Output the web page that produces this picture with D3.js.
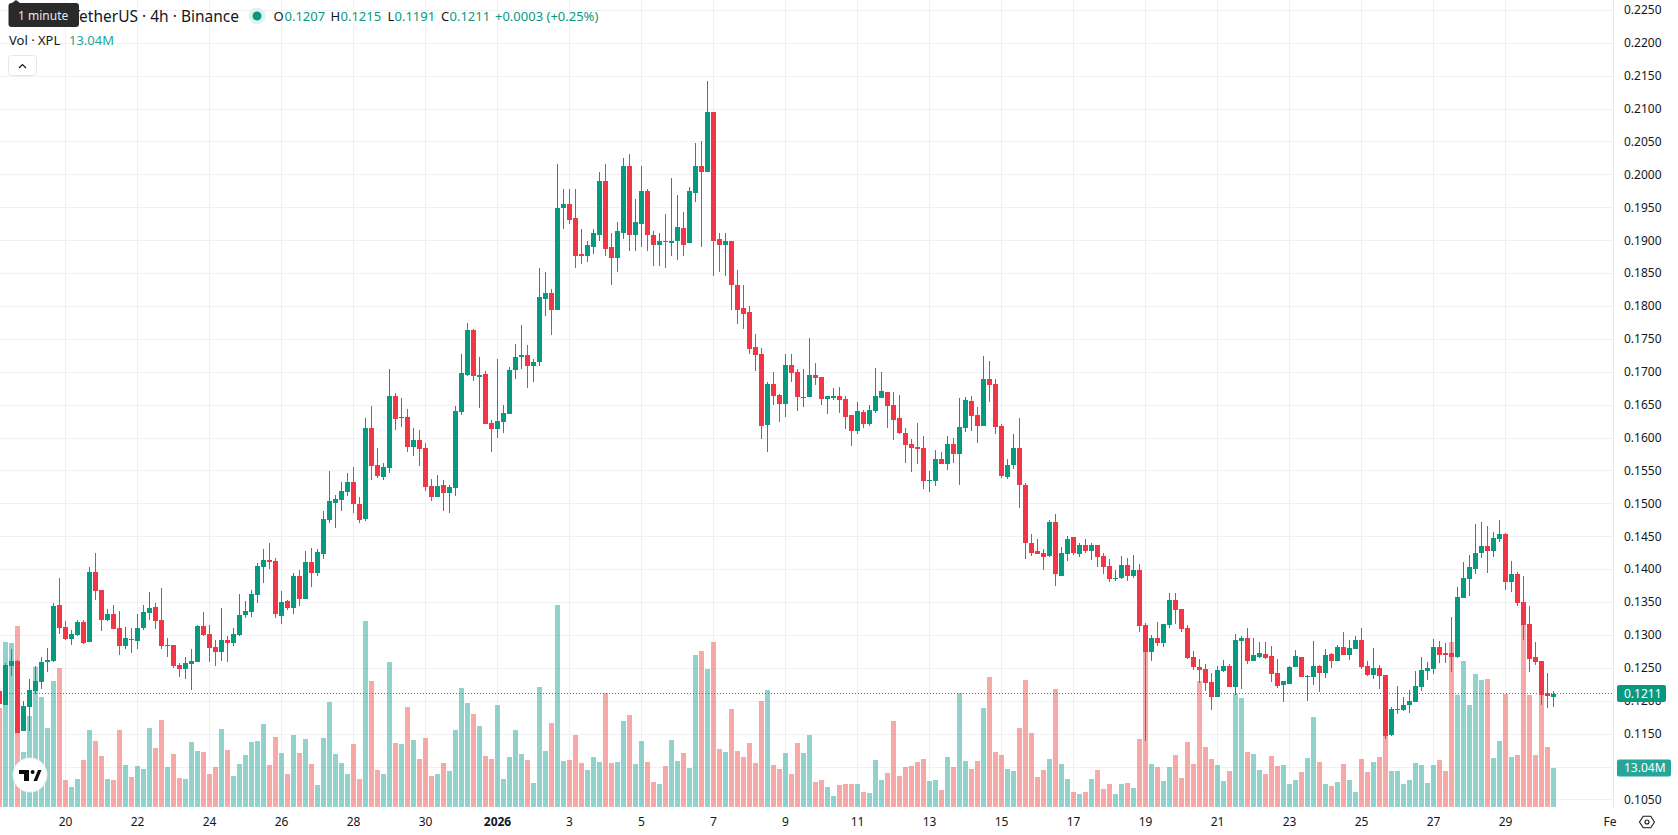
<!DOCTYPE html>
<html>
<head>
<meta charset="utf-8">
<title>XPL / TetherUS 4h</title>
<script src="https://cdn.jsdelivr.net/npm/d3@7"></script>
<style>
  html, body { margin: 0; padding: 0; background: #ffffff; }
  svg { display: block; font-family: "Noto Sans", Roboto, sans-serif; }
</style>
</head>
<body>
<svg id="chart" width="1678" height="835"></svg>
<script>
// Four-hour candles, oldest first. The first candle opens on 18 Dec 2025 at 04:00.
const opens = [
  .1216,.1194,.1254,.1261,.1154,.1191,.1216,.1229,.1260,.1261,.1346,
  .1313,.1294,.1300,.1320,.1290,.1396,.1369,.1323,.1332,.1311,.1284,.1295,.1291,.1311,.1334,.1343,.1323,.1284,.1285,
  .1255,.1249,.1257,.1260,.1314,.1302,.1282,.1275,.1293,.1288,.1300,.1331,.1335,.1361,.1404,.1414,.1413,.1330,.1353,.1341,
  .1391,.1356,.1412,.1395,.1424,.1475,.1501,.1506,.1518,.1533,.1500,.1477,.1615,.1559,.1541,.1554,.1664,.1630,.1632,.1586,
  .1597,.1585,.1527,.1510,.1529,.1516,.1524,.1639,.1696,.1764,.1693,.1697,.1623,.1614,.1624,.1636,.1703,.1723,.1726,.1709,
  .1715,.1812,.1820,.1795,.1949,.1956,.1934,.1879,.1876,.1890,.1909,.1991,.1890,.1873,.1912,.2014,.1909,.1926,.1975,.1909,
  .1894,.1900,.1897,.1899,.1920,.1896,.1973,.2013,.2005,.2096,.1902,.1894,.1899,.1833,.1797,.1791,.1738,.1728,.1620,.1682,
  .1665,.1652,.1711,.1700,.1661,.1662,.1696,.1693,.1659,.1661,.1664,.1659,.1635,.1611,.1640,.1621,.1641,.1661,.1670,.1650,
  .1630,.1608,.1591,.1586,.1585,.1535,.1535,.1568,.1560,.1591,.1576,.1615,.1656,.1635,.1618,.1690,.1682,.1618,.1541,.1559,
  .1585,.1528,.1441,.1428,.1425,.1420,.1472,.1391,.1423,.1449,.1423,.1437,.1428,.1437,.1420,.1405,.1387,.1387,.1407,.1391,
  .1399,.1316,.1275,.1296,.1288,.1316,.1354,.1340,.1311,.1267,.1252,.1249,.1229,.1207,.1246,.1254,.1222,.1291,.1296,.1261,
  .1267,.1272,.1269,.1243,.1224,.1226,.1252,.1267,.1237,.1237,.1253,.1243,.1272,.1261,.1282,.1271,.1279,.1293,.1253,.1240,
  .1250,.1240,.1148,.1186,.1186,.1194,.1199,.1221,.1246,.1249,.1282,.1273,.1273,.1267,.1357,.1385,.1401,.1425,.1436,.1428,
  .1446,.1454,.1381,.1393,.1351,.1317,.1267,.1261,.1212,.1207
];
const highs = [
  .1220,.1258,.1279,.1263,.1201,.1234,.1254,.1267,.1281,.1349,.1387,
  .1322,.1308,.1323,.1323,.1404,.1426,.1369,.1340,.1346,.1337,.1313,.1311,.1332,.1346,.1366,.1349,.1372,.1296,.1285,
  .1258,.1267,.1279,.1316,.1335,.1316,.1293,.1341,.1299,.1311,.1363,.1352,.1369,.1410,.1431,.1440,.1417,.1368,.1354,.1395,
  .1400,.1428,.1433,.1431,.1489,.1550,.1513,.1533,.1547,.1556,.1510,.1630,.1649,.1585,.1562,.1705,.1668,.1661,.1644,.1615,
  .1612,.1592,.1538,.1544,.1536,.1529,.1649,.1728,.1775,.1766,.1723,.1702,.1627,.1720,.1650,.1708,.1743,.1772,.1741,.1720,
  .1859,.1852,.1826,.2017,.1978,.1979,.1978,.1918,.1899,.1918,.2005,.2017,.1911,.1928,.2026,.2031,.1964,.2014,.1978,.1914,
  .1912,.1940,.1996,.1970,.1944,.1981,.2049,.2051,.2143,.2096,.1912,.1912,.1900,.1856,.1832,.1801,.1758,.1737,.1685,.1700,
  .1667,.1728,.1728,.1705,.1705,.1752,.1714,.1693,.1664,.1676,.1678,.1664,.1635,.1655,.1643,.1650,.1706,.1700,.1670,.1670,
  .1665,.1615,.1599,.1623,.1603,.1550,.1582,.1579,.1603,.1600,.1661,.1662,.1664,.1647,.1725,.1717,.1690,.1621,.1568,.1606,
  .1630,.1532,.1454,.1446,.1432,.1475,.1484,.1434,.1451,.1449,.1441,.1447,.1441,.1438,.1425,.1416,.1399,.1420,.1417,.1422,
  .1408,.1319,.1300,.1320,.1317,.1364,.1364,.1340,.1316,.1276,.1264,.1257,.1243,.1254,.1263,.1257,.1302,.1299,.1311,.1296,
  .1290,.1290,.1284,.1264,.1230,.1253,.1278,.1267,.1240,.1291,.1255,.1279,.1273,.1285,.1305,.1293,.1299,.1311,.1261,.1281,
  .1255,.1240,.1191,.1223,.1206,.1217,.1246,.1267,.1259,.1294,.1291,.1288,.1328,.1373,.1411,.1422,.1469,.1472,.1466,.1457,
  .1475,.1455,.1413,.1396,.1390,.1344,.1290,.1261,.1243,.1215
];
const lows = [
  .1190,.1194,.1238,.1152,.1154,.1154,.1211,.1219,.1244,.1260,.1302,
  .1293,.1285,.1299,.1287,.1290,.1354,.1307,.1322,.1310,.1270,.1279,.1273,.1279,.1308,.1323,.1310,.1279,.1267,.1251,
  .1237,.1234,.1217,.1260,.1299,.1260,.1254,.1261,.1260,.1284,.1299,.1326,.1328,.1349,.1379,.1401,.1327,.1318,.1339,.1332,
  .1345,.1356,.1374,.1391,.1416,.1471,.1463,.1489,.1512,.1486,.1471,.1474,.1536,.1539,.1536,.1547,.1612,.1617,.1579,.1573,
  .1557,.1520,.1504,.1510,.1489,.1486,.1512,.1635,.1694,.1687,.1646,.1621,.1579,.1600,.1608,.1636,.1690,.1705,.1676,.1685,
  .1710,.1785,.1757,.1794,.1918,.1925,.1858,.1865,.1867,.1880,.1899,.1876,.1832,.1852,.1902,.1884,.1885,.1890,.1884,.1861,
  .1861,.1858,.1877,.1870,.1876,.1896,.1959,.1891,.2005,.1847,.1852,.1847,.1794,.1774,.1766,.1728,.1702,.1599,.1579,.1650,
  .1624,.1632,.1685,.1641,.1647,.1662,.1681,.1650,.1637,.1658,.1638,.1614,.1588,.1606,.1615,.1618,.1638,.1661,.1615,.1597,
  .1606,.1562,.1548,.1561,.1523,.1518,.1527,.1560,.1551,.1562,.1529,.1609,.1611,.1592,.1618,.1655,.1606,.1539,.1538,.1553,
  .1494,.1416,.1420,.1423,.1399,.1419,.1375,.1390,.1413,.1422,.1419,.1425,.1414,.1404,.1393,.1381,.1382,.1385,.1382,.1387,
  .1305,.1140,.1261,.1284,.1282,.1311,.1317,.1305,.1264,.1247,.1228,.1216,.1187,.1207,.1244,.1222,.1210,.1219,.1257,.1261,
  .1266,.1264,.1229,.1220,.1199,.1226,.1252,.1237,.1200,.1224,.1214,.1235,.1250,.1261,.1270,.1262,.1279,.1249,.1238,.1234,
  .1218,.1142,.1147,.1180,.1185,.1182,.1199,.1215,.1232,.1241,.1258,.1258,.1244,.1265,.1357,.1360,.1393,.1417,.1395,.1419,
  .1442,.1369,.1366,.1344,.1293,.1244,.1255,.1194,.1189,.1191
];
const closes = [
  .1196,.1255,.1261,.1152,.1193,.1217,.1231,.1260,.1263,.1344,.1311,
  .1294,.1302,.1320,.1288,.1396,.1367,.1323,.1332,.1310,.1284,.1296,.1293,.1311,.1335,.1341,.1322,.1284,.1285,.1254,
  .1249,.1258,.1261,.1314,.1301,.1281,.1275,.1293,.1288,.1302,.1331,.1337,.1363,.1405,.1414,.1411,.1332,.1351,.1341,.1391,
  .1356,.1412,.1395,.1427,.1477,.1504,.1507,.1520,.1533,.1500,.1475,.1615,.1557,.1542,.1556,.1664,.1629,.1632,.1586,.1597,
  .1583,.1526,.1510,.1527,.1516,.1526,.1641,.1699,.1764,.1694,.1696,.1621,.1614,.1626,.1638,.1703,.1723,.1726,.1709,.1715,
  .1814,.1821,.1795,.1950,.1956,.1932,.1877,.1877,.1893,.1911,.1990,.1888,.1873,.1914,.2014,.1909,.1929,.1975,.1909,.1894,
  .1900,.1899,.1899,.1921,.1894,.1976,.2013,.2005,.2096,.1900,.1894,.1899,.1832,.1795,.1788,.1735,.1726,.1618,.1682,.1664,
  .1652,.1711,.1699,.1662,.1662,.1696,.1691,.1659,.1664,.1664,.1658,.1632,.1611,.1641,.1621,.1643,.1664,.1671,.1649,.1627,
  .1608,.1589,.1585,.1583,.1535,.1536,.1568,.1560,.1591,.1576,.1617,.1658,.1633,.1618,.1690,.1681,.1617,.1542,.1559,.1585,
  .1528,.1440,.1426,.1423,.1419,.1472,.1393,.1425,.1447,.1425,.1437,.1428,.1437,.1419,.1404,.1385,.1388,.1407,.1391,.1399,
  .1314,.1275,.1296,.1288,.1317,.1354,.1338,.1310,.1266,.1252,.1247,.1228,.1207,.1248,.1254,.1222,.1293,.1296,.1261,.1270,
  .1273,.1266,.1241,.1223,.1230,.1252,.1268,.1237,.1238,.1253,.1243,.1270,.1261,.1282,.1271,.1281,.1293,.1252,.1240,.1250,
  .1238,.1147,.1188,.1188,.1194,.1200,.1223,.1247,.1250,.1282,.1271,.1271,.1267,.1358,.1387,.1404,.1425,.1436,.1428,.1448,
  .1454,.1381,.1393,.1349,.1316,.1264,.1259,.1209,.1208,.1211
];
// Traded volume of each candle, in millions of XPL.
const volumes = [
  33.1,55.2,54.9,60.5,18.4,30.4,46.8,36.8,26.4,42.1,46.5,
  9.0,6.7,9.4,15.7,25.8,22.1,17.1,9.4,9.0,25.8,14.0,10.0,13.7,12.7,26.4,19.7,29.1,13.4,17.7,
  9.7,9.4,21.7,18.7,18.4,11.0,13.4,26.1,19.1,10.4,14.4,17.4,21.7,22.1,27.8,14.0,23.4,18.1,11.0,24.1,
  18.1,22.7,14.4,7.4,23.1,35.1,17.7,14.7,11.0,21.1,9.4,62.2,42.1,12.4,11.0,48.5,21.4,21.1,33.5,22.4,
  16.1,23.1,10.4,11.0,14.7,12.0,25.8,39.8,34.8,31.1,27.1,17.1,16.1,34.1,9.4,16.7,25.8,17.7,15.7,8.0,
  40.1,18.7,28.1,67.6,15.4,15.7,24.1,14.7,12.4,16.7,15.1,38.1,14.7,15.1,28.8,30.8,14.4,22.1,15.1,8.4,
  7.7,13.7,22.4,15.4,18.1,13.0,50.8,52.2,46.2,55.2,19.4,18.4,32.8,18.7,16.7,21.4,14.7,35.5,39.1,14.0,
  12.7,18.1,11.0,21.4,18.1,24.1,8.4,9.0,6.7,3.7,7.4,7.7,7.7,7.7,5.0,4.7,15.7,9.0,11.4,28.8,
  10.4,13.4,13.7,15.1,16.1,8.7,9.0,5.7,16.7,13.4,38.1,15.4,12.7,15.4,33.1,43.5,18.4,17.4,12.7,12.0,
  26.4,42.5,24.8,10.0,12.4,16.1,39.5,14.4,9.4,5.0,4.3,5.0,9.4,12.4,6.0,7.7,4.3,7.7,8.0,6.4,
  22.7,51.8,14.4,13.4,8.7,13.4,17.4,9.7,21.7,14.4,42.1,20.1,16.1,14.0,8.7,12.0,37.8,36.5,18.4,17.7,
  12.4,11.0,17.1,13.7,14.0,7.7,9.0,11.7,16.4,30.1,15.1,7.7,7.0,8.4,14.4,9.0,5.0,16.1,11.7,15.1,
  16.7,24.6,12.0,12.0,7.7,9.0,14.7,14.0,8.0,14.0,15.7,12.0,55.2,37.5,48.8,34.1,44.5,42.5,42.8,16.4,
  22.1,37.8,16.7,17.4,65.9,37.5,17.4,39.1,20.1,13.04
];
const priceTicks = [
  0.105,0.11,0.115,0.12,0.125,0.13,0.135,0.14,0.145,0.15,0.155,0.16,0.165,
  0.17,0.175,0.18,0.185,0.19,0.195,0.2,0.205,0.21,0.215,0.22,0.225
];
const dateTicks = [
  [2025,11,20,"20"],[2025,11,22,"22"],[2025,11,24,"24"],[2025,11,26,"26"],[2025,11,28,"28"],[2025,11,30,"30"],
  [2026,0,1,"2026"],[2026,0,3,"3"],[2026,0,5,"5"],[2026,0,7,"7"],[2026,0,9,"9"],[2026,0,11,"11"],[2026,0,13,"13"],
  [2026,0,15,"15"],[2026,0,17,"17"],[2026,0,19,"19"],[2026,0,21,"21"],[2026,0,23,"23"],[2026,0,25,"25"],
  [2026,0,27,"27"],[2026,0,29,"29"],[2026,1,1,"Fe"]
];

const UP = "#089981", DOWN = "#f23645";
const UP_VOL = "#26a69a", DOWN_VOL = "#ef5350";
const GRID = "#f1f1f3", BORDER = "#e6e7ea", INK = "#131722";
const PANE_RIGHT = 1614, PANE_BOTTOM = 807, BAR_WIDTH = 5;

const firstCandle = Date.UTC(2025, 11, 18, 4);
const times = opens.map((_, i) => new Date(firstCandle + i * 4 * 3600e3));
const tickDates = dateTicks.map(d => new Date(Date.UTC(d[0], d[1], d[2])));
const tickLabel = new Map(dateTicks.map((d, i) => [+tickDates[i], d[3]]));

const x = d3.scaleUtc()
  .domain([new Date(Date.UTC(2025, 11, 20)), new Date(Date.UTC(2026, 0, 29))])
  .range([65.5, 1505.5]);
const y = d3.scaleLinear().domain([0.225, 0.105]).range([10.4, 799.9]);
const v = d3.scaleLinear().domain([0, 100]).range([PANE_BOTTOM, PANE_BOTTOM - 299]);

const svg = d3.select("#chart");
const snap = n => Math.floor(n) + 0.5;

// Grid
const grid = svg.append("g").attr("stroke", GRID).attr("stroke-width", 1).attr("shape-rendering", "crispEdges");
grid.selectAll(".h").data(priceTicks).join("line").attr("class", "h")
  .attr("x1", 0).attr("x2", PANE_RIGHT).attr("y1", d => snap(y(d))).attr("y2", d => snap(y(d)));
grid.selectAll(".v").data(tickDates).join("line").attr("class", "v")
  .attr("y1", 0).attr("y2", PANE_BOTTOM).attr("x1", d => snap(x(d))).attr("x2", d => snap(x(d)));

// Volume columns sit behind the candles
svg.append("g").attr("shape-rendering", "crispEdges")
  .selectAll("rect").data(volumes).join("rect")
  .attr("x", (d, i) => Math.floor(x(times[i])) - 2)
  .attr("width", BAR_WIDTH)
  .attr("y", d => Math.round(v(d)))
  .attr("height", d => PANE_BOTTOM - Math.round(v(d)))
  .attr("fill", (d, i) => closes[i] >= opens[i] ? UP_VOL : DOWN_VOL)
  .attr("fill-opacity", 0.5);

// Candles: wick first, then body
const candles = svg.append("g").attr("shape-rendering", "crispEdges")
  .selectAll("g").data(opens).join("g")
  .attr("fill", (d, i) => closes[i] >= opens[i] ? UP : DOWN);
candles.append("rect")
  .attr("x", (d, i) => Math.floor(x(times[i])))
  .attr("width", 1)
  .attr("y", (d, i) => Math.round(y(highs[i])))
  .attr("height", (d, i) => Math.max(1, Math.round(y(lows[i])) - Math.round(y(highs[i]))));
candles.append("rect")
  .attr("x", (d, i) => Math.floor(x(times[i])) - 2)
  .attr("width", BAR_WIDTH)
  .attr("y", (d, i) => Math.round(y(Math.max(opens[i], closes[i]))))
  .attr("height", (d, i) => Math.max(1, Math.round(y(Math.min(opens[i], closes[i]))) - Math.round(y(Math.max(opens[i], closes[i])))));

// Last price line
const lastClose = closes[closes.length - 1];
const prevClose = closes[closes.length - 2];
svg.append("line")
  .attr("x1", 0).attr("x2", PANE_RIGHT)
  .attr("y1", snap(y(lastClose))).attr("y2", snap(y(lastClose)))
  .attr("stroke", UP).attr("stroke-dasharray", "1 2").attr("shape-rendering", "crispEdges");

// Axes
const yAxis = svg.append("g").attr("transform", `translate(${PANE_RIGHT},0)`)
  .call(d3.axisRight(y).tickValues(priceTicks).tickFormat(d3.format(".4f")).tickSize(0).tickPadding(10).offset(0));
const xAxis = svg.append("g").attr("transform", `translate(0,${PANE_BOTTOM})`)
  .call(d3.axisBottom(x).tickValues(tickDates).tickFormat(d => tickLabel.get(+d)).tickSize(0).tickPadding(10).offset(0));
[yAxis, xAxis].forEach(a => {
  a.select(".domain").remove();
  a.selectAll("text").attr("fill", INK).style("font-size", "12px").style("font-family", '"Noto Sans", Roboto, sans-serif');
});
xAxis.selectAll("text").filter(d => tickLabel.get(+d) === "2026").style("font-weight", 700);
xAxis.selectAll("text").filter(d => tickLabel.get(+d) === "Fe").attr("text-anchor", "end").attr("dx", 3);
// The volume tag covers this price label entirely
yAxis.selectAll(".tick").filter(d => d === 0.11).select("text").remove();
svg.append("line").attr("x1", PANE_RIGHT - .5).attr("x2", PANE_RIGHT - .5).attr("y1", 0).attr("y2", PANE_BOTTOM)
  .attr("stroke", BORDER).attr("shape-rendering", "crispEdges");

// Value tags on the price axis
function tag(cy, w, fill, text) {
  const g = svg.append("g");
  g.append("rect").attr("x", 1617).attr("y", cy - 8.5).attr("width", w).attr("height", 17).attr("rx", 2).attr("fill", fill);
  g.append("text").attr("x", 1624).attr("y", cy + 4).attr("fill", "#fff").style("font-size", "12px").text(text);
}
tag(snap(y(lastClose)), 49, UP, d3.format(".4f")(lastClose));
tag(768, 54, UP_VOL, d3.format(".2f")(volumes[volumes.length - 1]) + "M");

// Chart title and OHLC readout
const fmt = d3.format(".4f");
const last = opens.length - 1;
const legend = svg.append("g").style("font-size", "13px");
legend.append("text").attr("x", 239).attr("y", 21.5).attr("text-anchor", "end").attr("fill", INK)
  .style("font-size", "15.5px").text("TetherUS · 4h · Binance");
legend.append("circle").attr("cx", 257).attr("cy", 16).attr("r", 8.5).attr("fill", "#e0f2ef");
legend.append("circle").attr("cx", 257).attr("cy", 16).attr("r", 4.5).attr("fill", UP);
const readout = [
  ["O", 273.5, 284.5, fmt(opens[last])],
  ["H", 330.5, 340.5, fmt(highs[last])],
  ["L", 387.5, 394.5, fmt(lows[last])],
  ["C", 441, 449.5, fmt(lastClose)]
];
readout.forEach(([key, kx, vx, val]) => {
  legend.append("text").attr("x", kx).attr("y", 21).attr("fill", INK).text(key);
  legend.append("text").attr("x", vx).attr("y", 21).attr("fill", UP).text(val);
});
const change = lastClose - prevClose;
legend.append("text").attr("x", 495).attr("y", 21).attr("fill", UP)
  .text(`${d3.format("+.4f")(change)} (${d3.format("+.2f")(change / prevClose * 100)}%)`);
legend.append("text").attr("x", 9).attr("y", 45).attr("fill", INK).text("Vol · XPL");
legend.append("text").attr("x", 69).attr("y", 45).attr("fill", UP_VOL)
  .text(d3.format(".2f")(volumes[last]) + "M");

// Collapse button
svg.append("rect").attr("x", 8.5).attr("y", 55.5).attr("width", 28).attr("height", 20).attr("rx", 3)
  .attr("fill", "#fff").attr("stroke", BORDER);
svg.append("path").attr("d", "M19 68l3.5-3.5 3.5 3.5").attr("fill", "none").attr("stroke", INK).attr("stroke-width", 1.2);

// Tooltip over the title
svg.append("path").attr("d", "M16 0l4 3h-8z").attr("fill", "#2a2a2a");
svg.append("rect").attr("x", 8.5).attr("y", 3).attr("width", 70.5).attr("height", 24).attr("rx", 3).attr("fill", "#2a2a2a");
svg.append("text").attr("x", 18).attr("y", 20).attr("fill", "#e8e8e8").style("font-size", "12px").text("1 minute");

// Logo badge
const logo = svg.append("g").attr("transform", "translate(30,775)");
logo.append("circle").attr("r", 17).attr("fill", "#fff").attr("stroke", "#eef0f3").attr("stroke-width", 1);
logo.append("path").attr("fill", "#0c0c0c").attr("d", "M-11-5H-1V6H-6V-1H-11ZM3.5 6L8-5H11.5L7 6Z");
logo.append("circle").attr("cx", 2.6).attr("cy", -3).attr("r", 2).attr("fill", "#0c0c0c");

// Settings icon in the axis corner
const gear = svg.append("g").attr("transform", "translate(1647,822)").attr("fill", "none").attr("stroke", INK).attr("stroke-width", 1.1);
gear.append("path").attr("d", d3.line()(d3.range(6).map(i => {
  const a = i * Math.PI / 3;
  return [7.5 * Math.cos(a), 6.6 * Math.sin(a)];
})) + "Z");
gear.append("circle").attr("r", 2);
</script>
</body>
</html>
